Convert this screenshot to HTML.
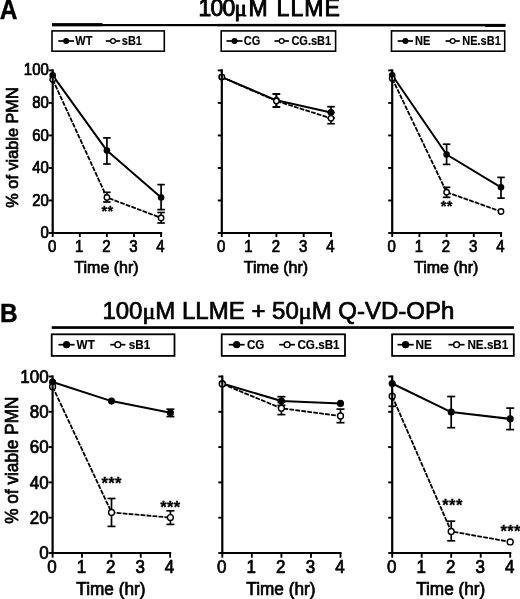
<!DOCTYPE html>
<html lang="en"><head><meta charset="utf-8"><title>Figure</title>
<style>
html,body{margin:0;padding:0;background:#fff;}
body{width:520px;height:599px;overflow:hidden;}
svg{display:block;}
</style></head>
<body>
<svg width="520" height="599" viewBox="0 0 520 599" font-family='"Liberation Sans", Arial, Helvetica, sans-serif' fill="#000">
<rect width="520" height="599" fill="#fff"/>
<text transform="translate(-0.3,18.5) scale(0.98,1.07)" font-size="25" font-weight="bold" stroke="#000" stroke-width="0.4">A</text>
<text x="198.5 210.5 222.4 234.6 248.5 268 276.6 290.5 304.35 324.4" y="16.4" font-size="23" stroke="#000" stroke-width="0.9">100<tspan font-family='"Liberation Serif", "DejaVu Serif", serif'>μ</tspan>M LLME</text>
<rect x="52" y="23.1" width="50.5" height="3.1" fill="#000"/>
<rect x="52" y="24" width="453.3" height="2.2" fill="#000"/>
<rect x="217" y="23.9" width="288.3" height="2.3" fill="#000"/>
<rect x="485" y="24" width="20.3" height="2.9" fill="#000"/>
<rect x="52" y="30.9" width="112.3" height="20.3" fill="#fff" stroke="#000" stroke-width="1.6"/>
<line x1="58.3" y1="41" x2="74" y2="41" stroke="#000" stroke-width="1.7" stroke-linecap="butt"/>
<circle cx="66.15" cy="41" r="3" fill="#000"/>
<text transform="translate(75.3,45.2) scale(1,1.1)" font-size="11" text-anchor="start" font-weight="bold" stroke="#000" stroke-width="0.15" >WT</text>
<line x1="105.8" y1="41" x2="120.2" y2="41" stroke="#000" stroke-width="1.7" stroke-linecap="butt"/>
<circle cx="113" cy="41" r="2.4" fill="#fff" stroke="#000" stroke-width="1.3"/>
<text transform="translate(121.8,45.2) scale(1,1.1)" font-size="11" text-anchor="start" font-weight="bold" stroke="#000" stroke-width="0.15" >sB1</text>
<rect x="221.2" y="30.9" width="114.4" height="20.3" fill="#fff" stroke="#000" stroke-width="1.6"/>
<line x1="226.5" y1="41" x2="242.5" y2="41" stroke="#000" stroke-width="1.7" stroke-linecap="butt"/>
<circle cx="234.5" cy="41" r="3" fill="#000"/>
<text transform="translate(243.8,45.2) scale(1,1.1)" font-size="11" text-anchor="start" font-weight="bold" stroke="#000" stroke-width="0.15" >CG</text>
<line x1="274.5" y1="41" x2="288.9" y2="41" stroke="#000" stroke-width="1.7" stroke-linecap="butt"/>
<circle cx="281.7" cy="41" r="2.4" fill="#fff" stroke="#000" stroke-width="1.3"/>
<text transform="translate(291.4,45.2) scale(1,1.1)" font-size="11" text-anchor="start" font-weight="bold" stroke="#000" stroke-width="0.15" >CG.sB1</text>
<rect x="391.5" y="30.9" width="113.2" height="20.3" fill="#fff" stroke="#000" stroke-width="1.6"/>
<line x1="397.7" y1="41" x2="413" y2="41" stroke="#000" stroke-width="1.7" stroke-linecap="butt"/>
<circle cx="405.35" cy="41" r="3" fill="#000"/>
<text transform="translate(415,45.2) scale(1,1.1)" font-size="11" text-anchor="start" font-weight="bold" stroke="#000" stroke-width="0.15" >NE</text>
<line x1="445.6" y1="41" x2="459.8" y2="41" stroke="#000" stroke-width="1.7" stroke-linecap="butt"/>
<circle cx="452.7" cy="41" r="2.4" fill="#fff" stroke="#000" stroke-width="1.3"/>
<text transform="translate(462.3,45.2) scale(1,1.1)" font-size="11" text-anchor="start" font-weight="bold" stroke="#000" stroke-width="0.15" >NE.sB1</text>
<polyline points="52.7,75.4 106.9,150.6 161.1,197.5" fill="none" stroke="#000" stroke-width="2" stroke-linejoin="round"/>
<line x1="106.9" y1="137.9" x2="106.9" y2="164" stroke="#000" stroke-width="1.7" stroke-linecap="butt"/>
<line x1="103.15" y1="137.9" x2="110.65" y2="137.9" stroke="#000" stroke-width="1.7" stroke-linecap="butt"/>
<line x1="103.15" y1="164" x2="110.65" y2="164" stroke="#000" stroke-width="1.7" stroke-linecap="butt"/>
<line x1="161.1" y1="184.6" x2="161.1" y2="209.6" stroke="#000" stroke-width="1.7" stroke-linecap="butt"/>
<line x1="157.35" y1="184.6" x2="164.85" y2="184.6" stroke="#000" stroke-width="1.7" stroke-linecap="butt"/>
<line x1="157.35" y1="209.6" x2="164.85" y2="209.6" stroke="#000" stroke-width="1.7" stroke-linecap="butt"/>
<circle cx="52.7" cy="75.4" r="3.3" fill="#000"/>
<circle cx="106.9" cy="150.6" r="3.3" fill="#000"/>
<circle cx="161.1" cy="197.5" r="3.3" fill="#000"/>
<polyline points="52.7,79.5 106.9,197.5 161.1,217.9" fill="none" stroke="#000" stroke-width="1.8" stroke-linejoin="round" stroke-dasharray="4.8 1.2"/>
<line x1="106.9" y1="192.3" x2="106.9" y2="202" stroke="#000" stroke-width="1.7" stroke-linecap="butt"/>
<line x1="103.15" y1="192.3" x2="110.65" y2="192.3" stroke="#000" stroke-width="1.7" stroke-linecap="butt"/>
<line x1="103.15" y1="202" x2="110.65" y2="202" stroke="#000" stroke-width="1.7" stroke-linecap="butt"/>
<line x1="161.1" y1="212.5" x2="161.1" y2="223" stroke="#000" stroke-width="1.7" stroke-linecap="butt"/>
<line x1="157.35" y1="212.5" x2="164.85" y2="212.5" stroke="#000" stroke-width="1.7" stroke-linecap="butt"/>
<line x1="157.35" y1="223" x2="164.85" y2="223" stroke="#000" stroke-width="1.7" stroke-linecap="butt"/>
<circle cx="52.7" cy="79.5" r="2.7" fill="#fff" stroke="#000" stroke-width="1.4"/>
<circle cx="106.9" cy="197.5" r="2.7" fill="#fff" stroke="#000" stroke-width="1.4"/>
<circle cx="161.1" cy="217.9" r="2.7" fill="#fff" stroke="#000" stroke-width="1.4"/>
<text x="107.5" y="216" font-size="14.5" text-anchor="middle" font-weight="bold" stroke="#000" stroke-width="0.3" letter-spacing="0.4">**</text>
<polyline points="221.8,77.1 276.4,100.3 331,112.4" fill="none" stroke="#000" stroke-width="2" stroke-linejoin="round"/>
<line x1="276.4" y1="94" x2="276.4" y2="107" stroke="#000" stroke-width="1.7" stroke-linecap="butt"/>
<line x1="272.65" y1="94" x2="280.15" y2="94" stroke="#000" stroke-width="1.7" stroke-linecap="butt"/>
<line x1="272.65" y1="107" x2="280.15" y2="107" stroke="#000" stroke-width="1.7" stroke-linecap="butt"/>
<line x1="331" y1="106.7" x2="331" y2="118" stroke="#000" stroke-width="1.7" stroke-linecap="butt"/>
<line x1="327.25" y1="106.7" x2="334.75" y2="106.7" stroke="#000" stroke-width="1.7" stroke-linecap="butt"/>
<line x1="327.25" y1="118" x2="334.75" y2="118" stroke="#000" stroke-width="1.7" stroke-linecap="butt"/>
<circle cx="221.8" cy="77.1" r="3.3" fill="#000"/>
<circle cx="276.4" cy="100.3" r="3.3" fill="#000"/>
<circle cx="331" cy="112.4" r="3.3" fill="#000"/>
<polyline points="221.8,77.1 276.4,101 331,118.3" fill="none" stroke="#000" stroke-width="1.8" stroke-linejoin="round" stroke-dasharray="4.8 1.2"/>
<line x1="276.4" y1="94" x2="276.4" y2="107" stroke="#000" stroke-width="1.7" stroke-linecap="butt"/>
<line x1="272.65" y1="94" x2="280.15" y2="94" stroke="#000" stroke-width="1.7" stroke-linecap="butt"/>
<line x1="272.65" y1="107" x2="280.15" y2="107" stroke="#000" stroke-width="1.7" stroke-linecap="butt"/>
<line x1="331" y1="112.5" x2="331" y2="123.7" stroke="#000" stroke-width="1.7" stroke-linecap="butt"/>
<line x1="327.25" y1="112.5" x2="334.75" y2="112.5" stroke="#000" stroke-width="1.7" stroke-linecap="butt"/>
<line x1="327.25" y1="123.7" x2="334.75" y2="123.7" stroke="#000" stroke-width="1.7" stroke-linecap="butt"/>
<circle cx="221.8" cy="77.1" r="2.7" fill="#fff" stroke="#000" stroke-width="1.4"/>
<circle cx="276.4" cy="101" r="2.7" fill="#fff" stroke="#000" stroke-width="1.4"/>
<circle cx="331" cy="118.3" r="2.7" fill="#fff" stroke="#000" stroke-width="1.4"/>
<polyline points="392.2,75.2 446.6,154.5 501,187.3" fill="none" stroke="#000" stroke-width="2" stroke-linejoin="round"/>
<line x1="446.6" y1="144.2" x2="446.6" y2="164.4" stroke="#000" stroke-width="1.7" stroke-linecap="butt"/>
<line x1="442.85" y1="144.2" x2="450.35" y2="144.2" stroke="#000" stroke-width="1.7" stroke-linecap="butt"/>
<line x1="442.85" y1="164.4" x2="450.35" y2="164.4" stroke="#000" stroke-width="1.7" stroke-linecap="butt"/>
<line x1="501" y1="177.4" x2="501" y2="198.1" stroke="#000" stroke-width="1.7" stroke-linecap="butt"/>
<line x1="497.25" y1="177.4" x2="504.75" y2="177.4" stroke="#000" stroke-width="1.7" stroke-linecap="butt"/>
<line x1="497.25" y1="198.1" x2="504.75" y2="198.1" stroke="#000" stroke-width="1.7" stroke-linecap="butt"/>
<circle cx="392.2" cy="75.2" r="3.3" fill="#000"/>
<circle cx="446.6" cy="154.5" r="3.3" fill="#000"/>
<circle cx="501" cy="187.3" r="3.3" fill="#000"/>
<polyline points="392.2,78.5 446.6,192.2 501,211.5" fill="none" stroke="#000" stroke-width="1.8" stroke-linejoin="round" stroke-dasharray="4.8 1.2"/>
<line x1="446.6" y1="187.3" x2="446.6" y2="197.3" stroke="#000" stroke-width="1.7" stroke-linecap="butt"/>
<line x1="442.85" y1="187.3" x2="450.35" y2="187.3" stroke="#000" stroke-width="1.7" stroke-linecap="butt"/>
<line x1="442.85" y1="197.3" x2="450.35" y2="197.3" stroke="#000" stroke-width="1.7" stroke-linecap="butt"/>
<circle cx="392.2" cy="78.5" r="2.7" fill="#fff" stroke="#000" stroke-width="1.4"/>
<circle cx="446.6" cy="192.2" r="2.7" fill="#fff" stroke="#000" stroke-width="1.4"/>
<circle cx="501" cy="211.5" r="2.7" fill="#fff" stroke="#000" stroke-width="1.4"/>
<text x="446.7" y="211.2" font-size="14.5" text-anchor="middle" font-weight="bold" stroke="#000" stroke-width="0.3" letter-spacing="0.4">**</text>
<line x1="52.7" y1="69.3" x2="52.7" y2="234.1" stroke="#000" stroke-width="2.2" stroke-linecap="butt"/>
<line x1="51.6" y1="233" x2="162.2" y2="233" stroke="#000" stroke-width="2.2" stroke-linecap="butt"/>
<line x1="48.7" y1="233" x2="52.7" y2="233" stroke="#000" stroke-width="1.9" stroke-linecap="butt"/>
<text transform="translate(48.8,238.09) scale(1,1.06)" font-size="15" text-anchor="end" font-weight="normal" stroke="#000" stroke-width="0.7" >0</text>
<line x1="48.7" y1="200.48" x2="52.7" y2="200.48" stroke="#000" stroke-width="1.9" stroke-linecap="butt"/>
<text transform="translate(48.8,205.57) scale(1,1.06)" font-size="15" text-anchor="end" font-weight="normal" stroke="#000" stroke-width="0.7" >20</text>
<line x1="48.7" y1="167.96" x2="52.7" y2="167.96" stroke="#000" stroke-width="1.9" stroke-linecap="butt"/>
<text transform="translate(48.8,173.05) scale(1,1.06)" font-size="15" text-anchor="end" font-weight="normal" stroke="#000" stroke-width="0.7" >40</text>
<line x1="48.7" y1="135.44" x2="52.7" y2="135.44" stroke="#000" stroke-width="1.9" stroke-linecap="butt"/>
<text transform="translate(48.8,140.53) scale(1,1.06)" font-size="15" text-anchor="end" font-weight="normal" stroke="#000" stroke-width="0.7" >60</text>
<line x1="48.7" y1="102.92" x2="52.7" y2="102.92" stroke="#000" stroke-width="1.9" stroke-linecap="butt"/>
<text transform="translate(48.8,108.01) scale(1,1.06)" font-size="15" text-anchor="end" font-weight="normal" stroke="#000" stroke-width="0.7" >80</text>
<line x1="48.7" y1="70.4" x2="52.7" y2="70.4" stroke="#000" stroke-width="1.9" stroke-linecap="butt"/>
<text transform="translate(48.8,75.49) scale(1,1.06)" font-size="15" text-anchor="end" font-weight="normal" stroke="#000" stroke-width="0.7" >100</text>
<line x1="52.7" y1="233" x2="52.7" y2="237" stroke="#000" stroke-width="1.9" stroke-linecap="butt"/>
<text transform="translate(52.1,251.8) scale(1,1.06)" font-size="15" text-anchor="middle" font-weight="normal" stroke="#000" stroke-width="0.7" >0</text>
<line x1="79.8" y1="233" x2="79.8" y2="237" stroke="#000" stroke-width="1.9" stroke-linecap="butt"/>
<text transform="translate(79.2,251.8) scale(1,1.06)" font-size="15" text-anchor="middle" font-weight="normal" stroke="#000" stroke-width="0.7" >1</text>
<line x1="106.9" y1="233" x2="106.9" y2="237" stroke="#000" stroke-width="1.9" stroke-linecap="butt"/>
<text transform="translate(106.3,251.8) scale(1,1.06)" font-size="15" text-anchor="middle" font-weight="normal" stroke="#000" stroke-width="0.7" >2</text>
<line x1="134" y1="233" x2="134" y2="237" stroke="#000" stroke-width="1.9" stroke-linecap="butt"/>
<text transform="translate(133.4,251.8) scale(1,1.06)" font-size="15" text-anchor="middle" font-weight="normal" stroke="#000" stroke-width="0.7" >3</text>
<line x1="161.1" y1="233" x2="161.1" y2="237" stroke="#000" stroke-width="1.9" stroke-linecap="butt"/>
<text transform="translate(160.5,251.8) scale(1,1.06)" font-size="15" text-anchor="middle" font-weight="normal" stroke="#000" stroke-width="0.7" >4</text>
<text transform="translate(106.5,272.8) scale(1,1.02)" font-size="16" text-anchor="middle" font-weight="normal" stroke="#000" stroke-width="0.7" >Time (hr)</text>
<text transform="translate(18.3,147.5) rotate(-90) scale(1,1)" font-size="16.3" text-anchor="middle" stroke="#000" stroke-width="0.7">% of viable PMN</text>
<line x1="221.8" y1="69.3" x2="221.8" y2="234.1" stroke="#000" stroke-width="2.2" stroke-linecap="butt"/>
<line x1="220.7" y1="233" x2="332.1" y2="233" stroke="#000" stroke-width="2.2" stroke-linecap="butt"/>
<line x1="217.8" y1="233" x2="221.8" y2="233" stroke="#000" stroke-width="1.9" stroke-linecap="butt"/>
<line x1="217.8" y1="200.48" x2="221.8" y2="200.48" stroke="#000" stroke-width="1.9" stroke-linecap="butt"/>
<line x1="217.8" y1="167.96" x2="221.8" y2="167.96" stroke="#000" stroke-width="1.9" stroke-linecap="butt"/>
<line x1="217.8" y1="135.44" x2="221.8" y2="135.44" stroke="#000" stroke-width="1.9" stroke-linecap="butt"/>
<line x1="217.8" y1="102.92" x2="221.8" y2="102.92" stroke="#000" stroke-width="1.9" stroke-linecap="butt"/>
<line x1="217.8" y1="70.4" x2="221.8" y2="70.4" stroke="#000" stroke-width="1.9" stroke-linecap="butt"/>
<line x1="221.8" y1="233" x2="221.8" y2="237" stroke="#000" stroke-width="1.9" stroke-linecap="butt"/>
<text transform="translate(221.2,251.8) scale(1,1.06)" font-size="15" text-anchor="middle" font-weight="normal" stroke="#000" stroke-width="0.7" >0</text>
<line x1="249.1" y1="233" x2="249.1" y2="237" stroke="#000" stroke-width="1.9" stroke-linecap="butt"/>
<text transform="translate(248.5,251.8) scale(1,1.06)" font-size="15" text-anchor="middle" font-weight="normal" stroke="#000" stroke-width="0.7" >1</text>
<line x1="276.4" y1="233" x2="276.4" y2="237" stroke="#000" stroke-width="1.9" stroke-linecap="butt"/>
<text transform="translate(275.8,251.8) scale(1,1.06)" font-size="15" text-anchor="middle" font-weight="normal" stroke="#000" stroke-width="0.7" >2</text>
<line x1="303.7" y1="233" x2="303.7" y2="237" stroke="#000" stroke-width="1.9" stroke-linecap="butt"/>
<text transform="translate(303.1,251.8) scale(1,1.06)" font-size="15" text-anchor="middle" font-weight="normal" stroke="#000" stroke-width="0.7" >3</text>
<line x1="331" y1="233" x2="331" y2="237" stroke="#000" stroke-width="1.9" stroke-linecap="butt"/>
<text transform="translate(330.4,251.8) scale(1,1.06)" font-size="15" text-anchor="middle" font-weight="normal" stroke="#000" stroke-width="0.7" >4</text>
<text transform="translate(276,272.8) scale(1,1.02)" font-size="16" text-anchor="middle" font-weight="normal" stroke="#000" stroke-width="0.7" >Time (hr)</text>
<line x1="392.2" y1="69.3" x2="392.2" y2="234.1" stroke="#000" stroke-width="2.2" stroke-linecap="butt"/>
<line x1="391.1" y1="233" x2="502.1" y2="233" stroke="#000" stroke-width="2.2" stroke-linecap="butt"/>
<line x1="388.2" y1="233" x2="392.2" y2="233" stroke="#000" stroke-width="1.9" stroke-linecap="butt"/>
<line x1="388.2" y1="200.48" x2="392.2" y2="200.48" stroke="#000" stroke-width="1.9" stroke-linecap="butt"/>
<line x1="388.2" y1="167.96" x2="392.2" y2="167.96" stroke="#000" stroke-width="1.9" stroke-linecap="butt"/>
<line x1="388.2" y1="135.44" x2="392.2" y2="135.44" stroke="#000" stroke-width="1.9" stroke-linecap="butt"/>
<line x1="388.2" y1="102.92" x2="392.2" y2="102.92" stroke="#000" stroke-width="1.9" stroke-linecap="butt"/>
<line x1="388.2" y1="70.4" x2="392.2" y2="70.4" stroke="#000" stroke-width="1.9" stroke-linecap="butt"/>
<line x1="392.2" y1="233" x2="392.2" y2="237" stroke="#000" stroke-width="1.9" stroke-linecap="butt"/>
<text transform="translate(391.6,251.8) scale(1,1.06)" font-size="15" text-anchor="middle" font-weight="normal" stroke="#000" stroke-width="0.7" >0</text>
<line x1="419.4" y1="233" x2="419.4" y2="237" stroke="#000" stroke-width="1.9" stroke-linecap="butt"/>
<text transform="translate(418.8,251.8) scale(1,1.06)" font-size="15" text-anchor="middle" font-weight="normal" stroke="#000" stroke-width="0.7" >1</text>
<line x1="446.6" y1="233" x2="446.6" y2="237" stroke="#000" stroke-width="1.9" stroke-linecap="butt"/>
<text transform="translate(446,251.8) scale(1,1.06)" font-size="15" text-anchor="middle" font-weight="normal" stroke="#000" stroke-width="0.7" >2</text>
<line x1="473.8" y1="233" x2="473.8" y2="237" stroke="#000" stroke-width="1.9" stroke-linecap="butt"/>
<text transform="translate(473.2,251.8) scale(1,1.06)" font-size="15" text-anchor="middle" font-weight="normal" stroke="#000" stroke-width="0.7" >3</text>
<line x1="501" y1="233" x2="501" y2="237" stroke="#000" stroke-width="1.9" stroke-linecap="butt"/>
<text transform="translate(500.4,251.8) scale(1,1.06)" font-size="15" text-anchor="middle" font-weight="normal" stroke="#000" stroke-width="0.7" >4</text>
<text transform="translate(446.2,272.8) scale(1,1.02)" font-size="16" text-anchor="middle" font-weight="normal" stroke="#000" stroke-width="0.7" >Time (hr)</text>
<text transform="translate(0,321.8) scale(1.04,1.09)" font-size="23.5" font-weight="bold" stroke="#000" stroke-width="0.4">B</text>
<text x="102.4" y="318.8" font-size="23" text-anchor="start" font-weight="normal" stroke="#000" stroke-width="0.7" textLength="352" lengthAdjust="spacingAndGlyphs">100<tspan font-family='"Liberation Serif", "DejaVu Serif", serif'>μ</tspan>M LLME + 50<tspan font-family='"Liberation Serif", "DejaVu Serif", serif'>μ</tspan>M Q-VD-OPh</text>
<rect x="51.7" y="326.2" width="462.2" height="2.7" fill="#000"/>
<rect x="51.7" y="334.3" width="122.8" height="21.6" fill="#fff" stroke="#000" stroke-width="1.8"/>
<line x1="58.5" y1="344.7" x2="74.6" y2="344.7" stroke="#000" stroke-width="1.7" stroke-linecap="butt"/>
<circle cx="66.55" cy="344.7" r="3.6" fill="#000"/>
<text transform="translate(76.6,349.2) scale(1,1.1)" font-size="11.7" text-anchor="start" font-weight="bold" stroke="#000" stroke-width="0.15" >WT</text>
<line x1="110.3" y1="344.7" x2="125.4" y2="344.7" stroke="#000" stroke-width="1.7" stroke-linecap="butt"/>
<circle cx="117.85" cy="344.7" r="2.9" fill="#fff" stroke="#000" stroke-width="1.4"/>
<text transform="translate(128.8,349.2) scale(1,1.1)" font-size="11.7" text-anchor="start" font-weight="bold" stroke="#000" stroke-width="0.15" >sB1</text>
<rect x="221.7" y="334.3" width="123.3" height="21.6" fill="#fff" stroke="#000" stroke-width="1.8"/>
<line x1="228.7" y1="344.7" x2="244.6" y2="344.7" stroke="#000" stroke-width="1.7" stroke-linecap="butt"/>
<circle cx="236.65" cy="344.7" r="3.6" fill="#000"/>
<text transform="translate(246.9,349.2) scale(1,1.1)" font-size="11.7" text-anchor="start" font-weight="bold" stroke="#000" stroke-width="0.15" >CG</text>
<line x1="279.2" y1="344.7" x2="295" y2="344.7" stroke="#000" stroke-width="1.7" stroke-linecap="butt"/>
<circle cx="287.1" cy="344.7" r="2.9" fill="#fff" stroke="#000" stroke-width="1.4"/>
<text transform="translate(297.4,349.2) scale(1,1.1)" font-size="11.7" text-anchor="start" font-weight="bold" stroke="#000" stroke-width="0.15" >CG.sB1</text>
<rect x="392.1" y="334.3" width="121.7" height="21.6" fill="#fff" stroke="#000" stroke-width="1.8"/>
<line x1="397.5" y1="344.7" x2="413.7" y2="344.7" stroke="#000" stroke-width="1.7" stroke-linecap="butt"/>
<circle cx="405.6" cy="344.7" r="3.6" fill="#000"/>
<text transform="translate(415.6,349.2) scale(1,1.1)" font-size="11.7" text-anchor="start" font-weight="bold" stroke="#000" stroke-width="0.15" >NE</text>
<line x1="448.5" y1="344.7" x2="464.6" y2="344.7" stroke="#000" stroke-width="1.7" stroke-linecap="butt"/>
<circle cx="456.55" cy="344.7" r="2.9" fill="#fff" stroke="#000" stroke-width="1.4"/>
<text transform="translate(467.4,349.2) scale(1,1.1)" font-size="11.7" text-anchor="start" font-weight="bold" stroke="#000" stroke-width="0.15" >NE.sB1</text>
<polyline points="52.6,382 111.5,401.1 170.4,412.8" fill="none" stroke="#000" stroke-width="2" stroke-linejoin="round"/>
<line x1="170.4" y1="409.2" x2="170.4" y2="416.6" stroke="#000" stroke-width="1.7" stroke-linecap="butt"/>
<line x1="166.4" y1="409.2" x2="174.4" y2="409.2" stroke="#000" stroke-width="1.7" stroke-linecap="butt"/>
<line x1="166.4" y1="416.6" x2="174.4" y2="416.6" stroke="#000" stroke-width="1.7" stroke-linecap="butt"/>
<circle cx="52.6" cy="382" r="3.55" fill="#000"/>
<circle cx="111.5" cy="401.1" r="3.55" fill="#000"/>
<circle cx="170.4" cy="412.8" r="3.55" fill="#000"/>
<polyline points="52.6,386.7 111.5,512.4 170.4,517.6" fill="none" stroke="#000" stroke-width="1.8" stroke-linejoin="round" stroke-dasharray="4.8 1.2"/>
<line x1="111.5" y1="498.5" x2="111.5" y2="526.4" stroke="#000" stroke-width="1.7" stroke-linecap="butt"/>
<line x1="107.5" y1="498.5" x2="115.5" y2="498.5" stroke="#000" stroke-width="1.7" stroke-linecap="butt"/>
<line x1="107.5" y1="526.4" x2="115.5" y2="526.4" stroke="#000" stroke-width="1.7" stroke-linecap="butt"/>
<line x1="170.4" y1="510.8" x2="170.4" y2="524.4" stroke="#000" stroke-width="1.7" stroke-linecap="butt"/>
<line x1="166.4" y1="510.8" x2="174.4" y2="510.8" stroke="#000" stroke-width="1.7" stroke-linecap="butt"/>
<line x1="166.4" y1="524.4" x2="174.4" y2="524.4" stroke="#000" stroke-width="1.7" stroke-linecap="butt"/>
<circle cx="52.6" cy="386.7" r="2.95" fill="#fff" stroke="#000" stroke-width="1.4"/>
<circle cx="111.5" cy="512.4" r="2.95" fill="#fff" stroke="#000" stroke-width="1.4"/>
<circle cx="170.4" cy="517.6" r="2.95" fill="#fff" stroke="#000" stroke-width="1.4"/>
<text x="111.7" y="489" font-size="16.5" text-anchor="middle" font-weight="bold" stroke="#000" stroke-width="0.3" letter-spacing="0.4">***</text>
<text x="170.4" y="512.5" font-size="16.5" text-anchor="middle" font-weight="bold" stroke="#000" stroke-width="0.3" letter-spacing="0.4">***</text>
<polyline points="222.3,383.5 281.4,401 340.5,403.4" fill="none" stroke="#000" stroke-width="2" stroke-linejoin="round"/>
<line x1="281.4" y1="396.7" x2="281.4" y2="405.3" stroke="#000" stroke-width="1.7" stroke-linecap="butt"/>
<line x1="277.4" y1="396.7" x2="285.4" y2="396.7" stroke="#000" stroke-width="1.7" stroke-linecap="butt"/>
<line x1="277.4" y1="405.3" x2="285.4" y2="405.3" stroke="#000" stroke-width="1.7" stroke-linecap="butt"/>
<circle cx="222.3" cy="383.5" r="3.55" fill="#000"/>
<circle cx="281.4" cy="401" r="3.55" fill="#000"/>
<circle cx="340.5" cy="403.4" r="3.55" fill="#000"/>
<polyline points="222.3,383.9 281.4,408.3 340.5,416" fill="none" stroke="#000" stroke-width="1.8" stroke-linejoin="round" stroke-dasharray="4.8 1.2"/>
<line x1="281.4" y1="402" x2="281.4" y2="414.6" stroke="#000" stroke-width="1.7" stroke-linecap="butt"/>
<line x1="277.4" y1="402" x2="285.4" y2="402" stroke="#000" stroke-width="1.7" stroke-linecap="butt"/>
<line x1="277.4" y1="414.6" x2="285.4" y2="414.6" stroke="#000" stroke-width="1.7" stroke-linecap="butt"/>
<line x1="340.5" y1="409.1" x2="340.5" y2="422.7" stroke="#000" stroke-width="1.7" stroke-linecap="butt"/>
<line x1="336.5" y1="409.1" x2="344.5" y2="409.1" stroke="#000" stroke-width="1.7" stroke-linecap="butt"/>
<line x1="336.5" y1="422.7" x2="344.5" y2="422.7" stroke="#000" stroke-width="1.7" stroke-linecap="butt"/>
<circle cx="222.3" cy="383.9" r="2.95" fill="#fff" stroke="#000" stroke-width="1.4"/>
<circle cx="281.4" cy="408.3" r="2.95" fill="#fff" stroke="#000" stroke-width="1.4"/>
<circle cx="340.5" cy="416" r="2.95" fill="#fff" stroke="#000" stroke-width="1.4"/>
<polyline points="392.2,383.5 451.2,412.1 510.2,418.9" fill="none" stroke="#000" stroke-width="2" stroke-linejoin="round"/>
<line x1="451.2" y1="396.5" x2="451.2" y2="427.7" stroke="#000" stroke-width="1.7" stroke-linecap="butt"/>
<line x1="447.2" y1="396.5" x2="455.2" y2="396.5" stroke="#000" stroke-width="1.7" stroke-linecap="butt"/>
<line x1="447.2" y1="427.7" x2="455.2" y2="427.7" stroke="#000" stroke-width="1.7" stroke-linecap="butt"/>
<line x1="510.2" y1="408.1" x2="510.2" y2="429.6" stroke="#000" stroke-width="1.7" stroke-linecap="butt"/>
<line x1="506.2" y1="408.1" x2="514.2" y2="408.1" stroke="#000" stroke-width="1.7" stroke-linecap="butt"/>
<line x1="506.2" y1="429.6" x2="514.2" y2="429.6" stroke="#000" stroke-width="1.7" stroke-linecap="butt"/>
<circle cx="392.2" cy="383.5" r="3.55" fill="#000"/>
<circle cx="451.2" cy="412.1" r="3.55" fill="#000"/>
<circle cx="510.2" cy="418.9" r="3.55" fill="#000"/>
<polyline points="392.2,396.2 451.2,531.4 510.2,541.9" fill="none" stroke="#000" stroke-width="1.8" stroke-linejoin="round" stroke-dasharray="4.8 1.2"/>
<line x1="392.2" y1="396.2" x2="392.2" y2="406.3" stroke="#000" stroke-width="1.7" stroke-linecap="butt"/>
<line x1="388.45" y1="406.3" x2="395.95" y2="406.3" stroke="#000" stroke-width="1.7" stroke-linecap="butt"/>
<line x1="451.2" y1="521.2" x2="451.2" y2="540.8" stroke="#000" stroke-width="1.7" stroke-linecap="butt"/>
<line x1="447.2" y1="521.2" x2="455.2" y2="521.2" stroke="#000" stroke-width="1.7" stroke-linecap="butt"/>
<line x1="447.2" y1="540.8" x2="455.2" y2="540.8" stroke="#000" stroke-width="1.7" stroke-linecap="butt"/>
<circle cx="392.2" cy="396.2" r="2.95" fill="#fff" stroke="#000" stroke-width="1.4"/>
<circle cx="451.2" cy="531.4" r="2.95" fill="#fff" stroke="#000" stroke-width="1.4"/>
<circle cx="510.2" cy="541.9" r="2.95" fill="#fff" stroke="#000" stroke-width="1.4"/>
<text x="452.5" y="510.7" font-size="16.5" text-anchor="middle" font-weight="bold" stroke="#000" stroke-width="0.3" letter-spacing="0.4">***</text>
<text x="500.4" y="537.2" font-size="16.5" text-anchor="start" font-weight="bold" stroke="#000" stroke-width="0.3" letter-spacing="0.4">***</text>
<line x1="52.6" y1="375.4" x2="52.6" y2="554.1" stroke="#000" stroke-width="2.2" stroke-linecap="butt"/>
<line x1="51.5" y1="553" x2="171.2" y2="553" stroke="#000" stroke-width="2.2" stroke-linecap="butt"/>
<line x1="48.6" y1="553" x2="52.6" y2="553" stroke="#000" stroke-width="1.9" stroke-linecap="butt"/>
<text transform="translate(48.7,559.35) scale(1,1.06)" font-size="17" text-anchor="end" font-weight="normal" stroke="#000" stroke-width="0.7" >0</text>
<line x1="48.6" y1="517.7" x2="52.6" y2="517.7" stroke="#000" stroke-width="1.9" stroke-linecap="butt"/>
<text transform="translate(48.7,524.05) scale(1,1.06)" font-size="17" text-anchor="end" font-weight="normal" stroke="#000" stroke-width="0.7" >20</text>
<line x1="48.6" y1="482.4" x2="52.6" y2="482.4" stroke="#000" stroke-width="1.9" stroke-linecap="butt"/>
<text transform="translate(48.7,488.75) scale(1,1.06)" font-size="17" text-anchor="end" font-weight="normal" stroke="#000" stroke-width="0.7" >40</text>
<line x1="48.6" y1="447.1" x2="52.6" y2="447.1" stroke="#000" stroke-width="1.9" stroke-linecap="butt"/>
<text transform="translate(48.7,453.45) scale(1,1.06)" font-size="17" text-anchor="end" font-weight="normal" stroke="#000" stroke-width="0.7" >60</text>
<line x1="48.6" y1="411.8" x2="52.6" y2="411.8" stroke="#000" stroke-width="1.9" stroke-linecap="butt"/>
<text transform="translate(48.7,418.15) scale(1,1.06)" font-size="17" text-anchor="end" font-weight="normal" stroke="#000" stroke-width="0.7" >80</text>
<line x1="48.6" y1="376.5" x2="52.6" y2="376.5" stroke="#000" stroke-width="1.9" stroke-linecap="butt"/>
<text transform="translate(48.7,382.85) scale(1,1.06)" font-size="17" text-anchor="end" font-weight="normal" stroke="#000" stroke-width="0.7" >100</text>
<line x1="52.6" y1="553" x2="52.6" y2="557.7" stroke="#000" stroke-width="1.9" stroke-linecap="butt"/>
<text transform="translate(52,573) scale(1,1.06)" font-size="17" text-anchor="middle" font-weight="normal" stroke="#000" stroke-width="0.7" >0</text>
<line x1="81.97" y1="553" x2="81.97" y2="557.7" stroke="#000" stroke-width="1.9" stroke-linecap="butt"/>
<text transform="translate(81.38,573) scale(1,1.06)" font-size="17" text-anchor="middle" font-weight="normal" stroke="#000" stroke-width="0.7" >1</text>
<line x1="111.35" y1="553" x2="111.35" y2="557.7" stroke="#000" stroke-width="1.9" stroke-linecap="butt"/>
<text transform="translate(110.75,573) scale(1,1.06)" font-size="17" text-anchor="middle" font-weight="normal" stroke="#000" stroke-width="0.7" >2</text>
<line x1="140.72" y1="553" x2="140.72" y2="557.7" stroke="#000" stroke-width="1.9" stroke-linecap="butt"/>
<text transform="translate(140.12,573) scale(1,1.06)" font-size="17" text-anchor="middle" font-weight="normal" stroke="#000" stroke-width="0.7" >3</text>
<line x1="170.1" y1="553" x2="170.1" y2="557.7" stroke="#000" stroke-width="1.9" stroke-linecap="butt"/>
<text transform="translate(169.5,573) scale(1,1.06)" font-size="17" text-anchor="middle" font-weight="normal" stroke="#000" stroke-width="0.7" >4</text>
<text transform="translate(110.85,594.8) scale(1,1.06)" font-size="17.2" text-anchor="middle" font-weight="normal" stroke="#000" stroke-width="0.7" >Time (hr)</text>
<text transform="translate(17.9,460.2) rotate(-90) scale(0.99,1.07)" font-size="17.4" text-anchor="middle" stroke="#000" stroke-width="0.7">% of viable PMN</text>
<line x1="222.3" y1="375.4" x2="222.3" y2="554.1" stroke="#000" stroke-width="2.2" stroke-linecap="butt"/>
<line x1="221.2" y1="553" x2="341.6" y2="553" stroke="#000" stroke-width="2.2" stroke-linecap="butt"/>
<line x1="218.3" y1="553" x2="222.3" y2="553" stroke="#000" stroke-width="1.9" stroke-linecap="butt"/>
<line x1="218.3" y1="517.7" x2="222.3" y2="517.7" stroke="#000" stroke-width="1.9" stroke-linecap="butt"/>
<line x1="218.3" y1="482.4" x2="222.3" y2="482.4" stroke="#000" stroke-width="1.9" stroke-linecap="butt"/>
<line x1="218.3" y1="447.1" x2="222.3" y2="447.1" stroke="#000" stroke-width="1.9" stroke-linecap="butt"/>
<line x1="218.3" y1="411.8" x2="222.3" y2="411.8" stroke="#000" stroke-width="1.9" stroke-linecap="butt"/>
<line x1="218.3" y1="376.5" x2="222.3" y2="376.5" stroke="#000" stroke-width="1.9" stroke-linecap="butt"/>
<line x1="222.3" y1="553" x2="222.3" y2="557.7" stroke="#000" stroke-width="1.9" stroke-linecap="butt"/>
<text transform="translate(221.7,573) scale(1,1.06)" font-size="17" text-anchor="middle" font-weight="normal" stroke="#000" stroke-width="0.7" >0</text>
<line x1="251.85" y1="553" x2="251.85" y2="557.7" stroke="#000" stroke-width="1.9" stroke-linecap="butt"/>
<text transform="translate(251.25,573) scale(1,1.06)" font-size="17" text-anchor="middle" font-weight="normal" stroke="#000" stroke-width="0.7" >1</text>
<line x1="281.4" y1="553" x2="281.4" y2="557.7" stroke="#000" stroke-width="1.9" stroke-linecap="butt"/>
<text transform="translate(280.8,573) scale(1,1.06)" font-size="17" text-anchor="middle" font-weight="normal" stroke="#000" stroke-width="0.7" >2</text>
<line x1="310.95" y1="553" x2="310.95" y2="557.7" stroke="#000" stroke-width="1.9" stroke-linecap="butt"/>
<text transform="translate(310.35,573) scale(1,1.06)" font-size="17" text-anchor="middle" font-weight="normal" stroke="#000" stroke-width="0.7" >3</text>
<line x1="340.5" y1="553" x2="340.5" y2="557.7" stroke="#000" stroke-width="1.9" stroke-linecap="butt"/>
<text transform="translate(339.9,573) scale(1,1.06)" font-size="17" text-anchor="middle" font-weight="normal" stroke="#000" stroke-width="0.7" >4</text>
<text transform="translate(280.9,594.8) scale(1,1.06)" font-size="17.2" text-anchor="middle" font-weight="normal" stroke="#000" stroke-width="0.7" >Time (hr)</text>
<line x1="392.2" y1="375.4" x2="392.2" y2="554.1" stroke="#000" stroke-width="2.2" stroke-linecap="butt"/>
<line x1="391.1" y1="553" x2="511.3" y2="553" stroke="#000" stroke-width="2.2" stroke-linecap="butt"/>
<line x1="388.2" y1="553" x2="392.2" y2="553" stroke="#000" stroke-width="1.9" stroke-linecap="butt"/>
<line x1="388.2" y1="517.7" x2="392.2" y2="517.7" stroke="#000" stroke-width="1.9" stroke-linecap="butt"/>
<line x1="388.2" y1="482.4" x2="392.2" y2="482.4" stroke="#000" stroke-width="1.9" stroke-linecap="butt"/>
<line x1="388.2" y1="447.1" x2="392.2" y2="447.1" stroke="#000" stroke-width="1.9" stroke-linecap="butt"/>
<line x1="388.2" y1="411.8" x2="392.2" y2="411.8" stroke="#000" stroke-width="1.9" stroke-linecap="butt"/>
<line x1="388.2" y1="376.5" x2="392.2" y2="376.5" stroke="#000" stroke-width="1.9" stroke-linecap="butt"/>
<line x1="392.2" y1="553" x2="392.2" y2="557.7" stroke="#000" stroke-width="1.9" stroke-linecap="butt"/>
<text transform="translate(391.6,573) scale(1,1.06)" font-size="17" text-anchor="middle" font-weight="normal" stroke="#000" stroke-width="0.7" >0</text>
<line x1="421.7" y1="553" x2="421.7" y2="557.7" stroke="#000" stroke-width="1.9" stroke-linecap="butt"/>
<text transform="translate(421.1,573) scale(1,1.06)" font-size="17" text-anchor="middle" font-weight="normal" stroke="#000" stroke-width="0.7" >1</text>
<line x1="451.2" y1="553" x2="451.2" y2="557.7" stroke="#000" stroke-width="1.9" stroke-linecap="butt"/>
<text transform="translate(450.6,573) scale(1,1.06)" font-size="17" text-anchor="middle" font-weight="normal" stroke="#000" stroke-width="0.7" >2</text>
<line x1="480.7" y1="553" x2="480.7" y2="557.7" stroke="#000" stroke-width="1.9" stroke-linecap="butt"/>
<text transform="translate(480.1,573) scale(1,1.06)" font-size="17" text-anchor="middle" font-weight="normal" stroke="#000" stroke-width="0.7" >3</text>
<line x1="510.2" y1="553" x2="510.2" y2="557.7" stroke="#000" stroke-width="1.9" stroke-linecap="butt"/>
<text transform="translate(509.6,573) scale(1,1.06)" font-size="17" text-anchor="middle" font-weight="normal" stroke="#000" stroke-width="0.7" >4</text>
<text transform="translate(450.7,594.8) scale(1,1.06)" font-size="17.2" text-anchor="middle" font-weight="normal" stroke="#000" stroke-width="0.7" >Time (hr)</text>
</svg>
</body></html>
